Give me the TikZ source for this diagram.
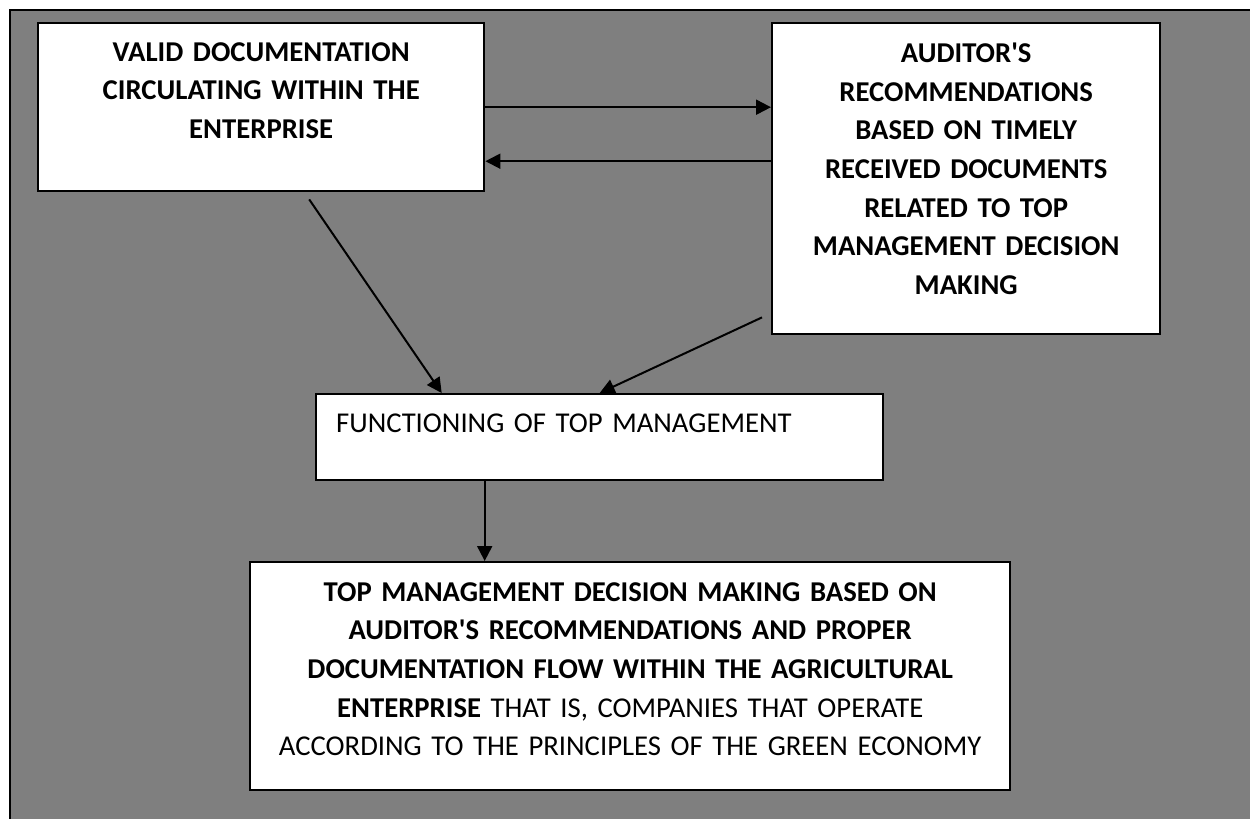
\documentclass[tikz,border=0pt]{standalone}
\usepackage{fontspec}
\setmainfont{Carlito}
\usetikzlibrary{arrows.meta, positioning, calc}
\definecolor{cBack}{RGB}{127,127,127}
\tikzset{
	box/.style={rectangle, draw=black, line width=1.2pt, fill=white, anchor=north west, inner sep=0pt, align=center},
	boldbox/.style={box, font=\fontsize{14.35}{19.3}\selectfont\bfseries},
	plainbox/.style={box, font=\fontsize{14.35}{19.3}\selectfont},
	sig/.style={-{Triangle[length=7.5pt, width=7.5pt]}, line width=1pt},
}
\newcommand{\lowpad}[1]{\rule[-#1]{0pt}{#1}}

\begin{document}
\begin{tikzpicture}[x=0.5pt, y=-0.5pt]
	\useasboundingbox (0,0) rectangle (1250,819);
	\filldraw[fill=cBack, draw=black, line width=1pt] (10,10) rectangle (1262,832);
	% boxes
	\node[boldbox, minimum width=223pt, minimum height=84pt, text width=215pt] (valid) at (37,22)
		{VALID DOCUMENTATION\\CIRCULATING WITHIN THE\\ENTERPRISE\lowpad{16.7pt}};
	\node[boldbox, minimum width=194pt, minimum height=155.5pt, text width=186pt] (auditor) at (771,22)
		{AUDITOR\textquotesingle S\\RECOMMENDATIONS\\BASED ON TIMELY\\RECEIVED DOCUMENTS\\RELATED TO TOP\\MANAGEMENT DECISION\\MAKING\lowpad{10pt}};
	\node[plainbox, minimum width=283.5pt, minimum height=43pt, text width=263.5pt, align=left] (func) at (315,393)
		{FUNCTIONING OF TOP MANAGEMENT\lowpad{14pt}};
	\node[plainbox, minimum width=380pt, minimum height=114pt, text width=374pt] (decision) at (249,561)
		{\textbf{TOP MANAGEMENT DECISION MAKING BASED ON}\\
		 \textbf{AUDITOR\textquotesingle S RECOMMENDATIONS AND PROPER}\\
		 \textbf{DOCUMENTATION FLOW WITHIN THE AGRICULTURAL}\\
		 \textbf{ENTERPRISE} THAT IS, COMPANIES THAT OPERATE\\
		 ACCORDING TO THE PRINCIPLES OF THE GREEN ECONOMY\lowpad{7.2pt}};
	% connectors
	\draw[sig] (valid.east) -- (valid.east -| auditor.west);
	\draw[sig] ($(valid.east -| auditor.west)+(0,54)$) -- ($(valid.east)+(0,54)$);
	\draw[sig] ($(valid.south)+(48,7)$) -- ($(func.north)+(-158,0)$);
	\draw[sig] ($(auditor.south west)+(-9,-18)$) -- (func.north);
	\draw[sig] ($(func.south)+(-115,0)$) coordinate (fdown) -- (fdown |- decision.north);
\end{tikzpicture}
\end{document}
